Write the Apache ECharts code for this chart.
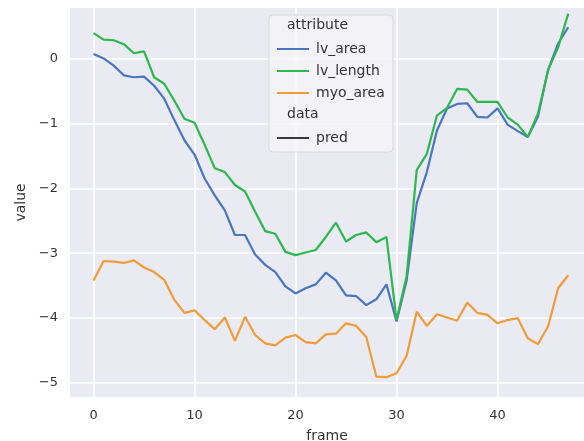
<!DOCTYPE html>
<html>
<head>
<meta charset="utf-8">
<script src="https://cdn.jsdelivr.net/npm/echarts@6/dist/echarts.min.js"></script>
<style>html,body{margin:0;padding:0;background:#fff}#c{width:584px;height:441px}</style>
</head>
<body>
<div id="c"></div>
<script>
var frames = [];
for (var i = 0; i < 48; i++) frames.push(i);
var lvArea = [0.07, 0.0, -0.11, -0.26, -0.29, -0.28, -0.42, -0.62, -0.95, -1.26,
  -1.48, -1.85, -2.11, -2.34, -2.72, -2.72, -3.02, -3.18, -3.29, -3.51,
  -3.62, -3.54, -3.48, -3.30, -3.42, -3.65, -3.66, -3.80, -3.71, -3.48,
  -4.05, -3.42, -2.23, -1.75, -1.11, -0.77, -0.70, -0.69, -0.90, -0.91,
  -0.77, -1.02, -1.12, -1.21, -0.90, -0.18, 0.23, 0.48];
var lvLength = [0.39, 0.29, 0.28, 0.22, 0.08, 0.11, -0.29, -0.39, -0.65, -0.93,
  -0.99, -1.33, -1.69, -1.75, -1.95, -2.05, -2.36, -2.66, -2.70, -2.98,
  -3.03, -2.99, -2.95, -2.75, -2.53, -2.82, -2.72, -2.68, -2.83, -2.75,
  -4.03, -3.35, -1.72, -1.47, -0.88, -0.76, -0.47, -0.48, -0.67, -0.67,
  -0.67, -0.91, -1.02, -1.21, -0.85, -0.18, 0.17, 0.69];
var myoArea = [-3.42, -3.12, -3.13, -3.15, -3.11, -3.22, -3.29, -3.41, -3.72, -3.92,
  -3.88, -4.03, -4.17, -3.99, -4.35, -3.98, -4.26, -4.39, -4.42, -4.30,
  -4.26, -4.37, -4.39, -4.25, -4.24, -4.08, -4.12, -4.29, -4.90, -4.91,
  -4.85, -4.58, -3.90, -4.12, -3.94, -3.99, -4.04, -3.76, -3.92, -3.95,
  -4.08, -4.03, -4.00, -4.31, -4.40, -4.13, -3.54, -3.34];
var xTicks = [0, 10, 20, 30, 40];
var yTicks = [-5, -4, -3, -2, -1, 0];
var attrNames = ['lv_area', 'lv_length', 'myo_area'];
var dataNames = ['pred'];

function pairs(ys) { return ys.map(function (v, i) { return [frames[i], v]; }); }
var FONT = 'DejaVu Sans';
var TXT = '#333333';
function fmt(v) { return v < 0 ? '\u2212' + Math.abs(v) : String(v); }

var chart = echarts.init(document.getElementById('c'), null, {renderer: 'canvas'});
var lineBase = {type: 'line', showSymbol: false, symbol: 'none', animation: false};
chart.setOption({
  animation: false,
  textStyle: {fontFamily: FONT},
  grid: {left: 70, right: 0, top: 8, bottom: 44, show: true, backgroundColor: '#eaeaf2', borderWidth: 0,
    containLabel: false, outerBoundsMode: 'none'},
  xAxis: {
    type: 'value', min: -2.33, max: 48.56,
    name: 'frame', nameLocation: 'middle', nameGap: 32,
    nameTextStyle: {fontSize: 14, color: TXT, fontFamily: FONT},
    axisLine: {show: false}, axisTick: {show: false, customValues: xTicks},
    axisLabel: {customValues: xTicks, fontSize: 13, color: TXT, margin: 12, fontFamily: FONT, formatter: fmt},
    splitLine: {show: true, lineStyle: {color: '#ffffff', width: 1.5}}
  },
  yAxis: {
    type: 'value', min: -5.215, max: 0.777,
    name: 'value', nameLocation: 'middle', nameGap: 41,
    nameTextStyle: {fontSize: 14, color: TXT, fontFamily: FONT},
    axisLine: {show: false}, axisTick: {show: false, customValues: yTicks},
    axisLabel: {customValues: yTicks, fontSize: 13, color: TXT, margin: 12, fontFamily: FONT, formatter: fmt},
    splitLine: {show: true, lineStyle: {color: '#ffffff', width: 1.5}}
  },
  graphic: {
    elements: [
      {type: 'rect', z: 10, shape: {x: 269, y: 15, width: 124, height: 137, r: 4},
        style: {fill: 'rgba(245,245,248,0.85)', stroke: '#d8d8dc', lineWidth: 1}},
      {type: 'text', z: 11, x: 287, y: 25, style: {text: 'attribute', fontSize: 14, fontFamily: FONT, fill: TXT, textVerticalAlign: 'middle', verticalAlign: 'middle'}},
      {type: 'text', z: 11, x: 287, y: 114, style: {text: 'data', fontSize: 14, fontFamily: FONT, fill: TXT, textVerticalAlign: 'middle', verticalAlign: 'middle'}}
    ]
  },
  legend: [
    {data: attrNames, orient: 'vertical', left: 272, top: 36, icon: 'rect', itemWidth: 32, itemHeight: 2,
      itemGap: 6, z: 20, textStyle: {fontSize: 14, color: TXT, fontFamily: FONT, lineHeight: 16, padding: [0, 0, 0, 2]}, selectedMode: false},
    {data: dataNames, orient: 'vertical', left: 272, top: 125, icon: 'rect', itemWidth: 32, itemHeight: 2,
      itemGap: 6, z: 20, textStyle: {fontSize: 14, color: TXT, fontFamily: FONT, lineHeight: 16, padding: [0, 0, 0, 2]}, selectedMode: false}
  ],
  series: [
    Object.assign({}, lineBase, {name: 'lv_area', data: pairs(lvArea), color: '#4a76c0', lineStyle: {width: 2.2, color: '#4a76c0'}}),
    Object.assign({}, lineBase, {name: 'lv_length', data: pairs(lvLength), color: '#2db84d', lineStyle: {width: 2.2, color: '#2db84d'}}),
    Object.assign({}, lineBase, {name: 'myo_area', data: pairs(myoArea), color: '#f09c38', lineStyle: {width: 2.2, color: '#f09c38'}}),
    Object.assign({}, lineBase, {name: 'pred', data: [], color: '#3a3a3a', lineStyle: {width: 2.2, color: '#3a3a3a'}})
  ]
});
</script>
</body>
</html>
